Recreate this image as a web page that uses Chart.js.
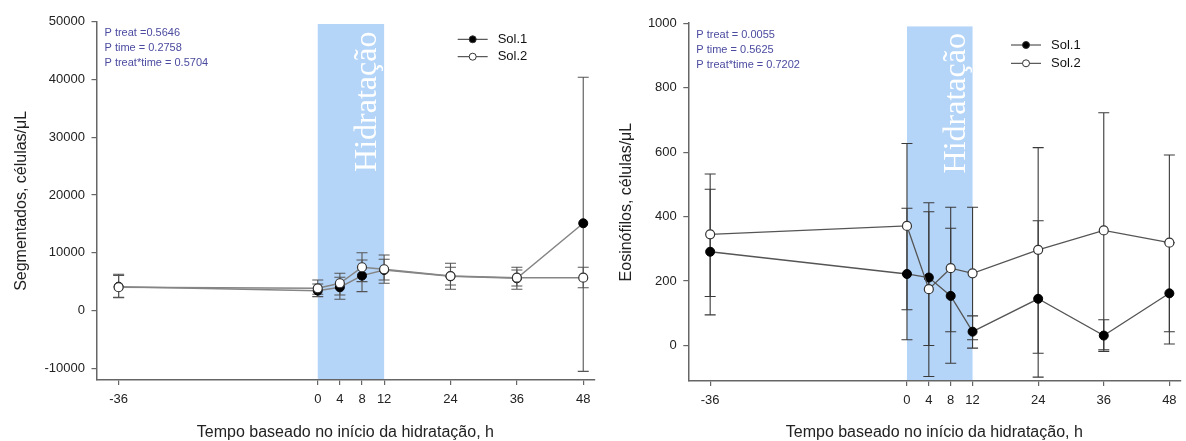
<!DOCTYPE html>
<html><head><meta charset="utf-8">
<script src="https://cdn.jsdelivr.net/npm/chart.js@4.4.1/dist/chart.umd.min.js"></script>
<style>
html,body{margin:0;padding:0;background:#fff;}
#wrap{position:relative;width:1186px;height:441px;overflow:hidden;background:#fff;}
.box{position:absolute;top:0;height:441px;}
</style></head><body>
<div id="wrap">
<div class="box" style="left:0;width:600px"><canvas id="c1" width="600" height="441"></canvas></div>
<div class="box" style="left:593px;width:593px"><canvas id="c2" width="593" height="441"></canvas></div>
</div>
<script>
// ---- data ----
const hours = [-36, 0, 4, 8, 12, 24, 36, 48];
const xTicks = [-36, 0, 4, 8, 12, 24, 36, 48];
const seriesNames = ['Sol.1', 'Sol.2'];

// Segmentados (células/μL): means and error-bar ends
const segSol1   = [4150, 3460, 4050, 6060, 7040, 5950, 5600, 15120];
const segSol1Lo = [2250, 2420, 1970, 3290, 4740, 3700, 3700, -10500];
const segSol1Hi = [6300, 4600, 5780, 8770, 9640, 8200, 7510, 40400];
const segSol2   = [4050, 3870, 4740, 7510, 7160, 5980, 5700, 5710];
const segSol2Lo = [2300, 2840, 2720, 5020, 5310, 4450, 4270, 3950];
const segSol2Hi = [6100, 5300, 6470, 10030, 8890, 7510, 7040, 7500];
const segYTicks = [-10000, 0, 10000, 20000, 30000, 40000, 50000];
const segStats = ['P treat =0.5646', 'P time = 0.2758', 'P treat*time = 0.5704'];

// Eosinófilos (células/μL)
const eosSol1   = [291, 222, 211, 154, 43, 145, 31, 162];
const eosSol1Lo = [95, 18, 0, -55, -8, -98, -18, 5];
const eosSol1Hi = [485, 426, 415, 364, 92, 387, 80, 319];
const eosSol2   = [345, 371, 175, 240, 224, 297, 357, 319];
const eosSol2Lo = [152, 111, -96, 43, 18, -24, -13, 43];
const eosSol2Hi = [532, 627, 443, 429, 429, 614, 722, 591];
const eosYTicks = [0, 200, 400, 600, 800, 1000];
const eosStats = ['P treat = 0.0055', 'P time = 0.5625', 'P treat*time = 0.7202'];

const hydration = [0, 12];
const bandLabel = 'Hidratação';
const xTitle = 'Tempo baseado no início da hidratação, h';

// ---- rendering ----
const SANS = '"Liberation Sans", Arial, Helvetica, sans-serif';
Chart.defaults.font.family = SANS;
Chart.defaults.color = '#222';

function pts(arr) { return hours.map((h, i) => ({x: h, y: arr[i]})); }

const decor = {
  id: 'decor',
  beforeDraw(chart, args, o) {
    const {ctx, chartArea: a, scales: {x, y}} = chart;
    const x0 = x.getPixelForValue(hydration[0]);
    const x1 = x.getPixelForValue(hydration[1]);
    const yt = y.getPixelForValue(o.bandTop);
    ctx.save();
    ctx.fillStyle = '#b4d5f8';
    ctx.fillRect(x0, yt, x1 - x0, a.bottom - yt);
    ctx.translate(x1 - 8, a.top + 80);
    ctx.rotate(-Math.PI / 2);
    ctx.font = '32px "Liberation Serif", "Times New Roman", serif';
    ctx.fillStyle = '#ffffff';
    ctx.textAlign = 'center';
    ctx.textBaseline = 'alphabetic';
    ctx.fillText(bandLabel, 0, 0);
    ctx.restore();
  },
  beforeDatasetsDraw(chart, args, o) {
    const {ctx, scales: {x, y}} = chart;
    ctx.save();
    ctx.strokeStyle = o.errColor;
    ctx.lineWidth = o.errWidth;
    const cap = 5.5;
    o.bars.forEach(([lo, hi]) => {
      hours.forEach((h, i) => {
        const px = x.getPixelForValue(h);
        const pl = y.getPixelForValue(lo[i]);
        const ph = y.getPixelForValue(hi[i]);
        ctx.beginPath();
        ctx.moveTo(px, pl); ctx.lineTo(px, ph);
        ctx.moveTo(px - cap, pl); ctx.lineTo(px + cap, pl);
        ctx.moveTo(px - cap, ph); ctx.lineTo(px + cap, ph);
        ctx.stroke();
      });
    });
    ctx.restore();
  },
  afterDraw(chart, args, o) {
    const {ctx, chartArea: a} = chart;
    ctx.save();
    ctx.font = '11px ' + SANS;
    ctx.fillStyle = '#4b4ba0';
    ctx.textAlign = 'left';
    ctx.textBaseline = 'middle';
    o.stats.forEach((t, i) => ctx.fillText(t, a.left + 8, a.top + 11.5 + i * 15));
    ctx.font = '13px ' + SANS;
    seriesNames.forEach((name, i) => {
      const ly = o.legendY + i * o.legendGap;
      ctx.strokeStyle = '#333';
      ctx.lineWidth = 1;
      ctx.beginPath(); ctx.moveTo(o.legendX, ly); ctx.lineTo(o.legendX + 30, ly); ctx.stroke();
      ctx.beginPath(); ctx.arc(o.legendX + 15, ly, 3.5, 0, Math.PI * 2);
      ctx.fillStyle = i === 0 ? '#000' : '#fff';
      ctx.fill(); ctx.stroke();
      ctx.fillStyle = '#111';
      ctx.fillText(name, o.legendX + 40, ly);
    });
    ctx.restore();
  }
};

function makeChart(id, c) {
  return new Chart(document.getElementById(id), {
    type: 'line',
    data: {
      datasets: [
        {label: seriesNames[1], data: pts(c.s2), order: 0, borderColor: c.lineColor, borderWidth: c.lineWidth,
         pointRadius: 4.5, pointBackgroundColor: '#fff', pointBorderColor: '#333', pointBorderWidth: 1.2, tension: 0},
        {label: seriesNames[0], data: pts(c.s1), order: 1, borderColor: c.lineColor, borderWidth: c.lineWidth,
         pointRadius: 4.5, pointBackgroundColor: '#000', pointBorderColor: '#000', pointBorderWidth: 1, tension: 0}
      ]
    },
    options: {
      responsive: false,
      animation: false,
      devicePixelRatio: 1,
      layout: {padding: {left: 0, top: c.padTop, right: c.padRight, bottom: 0}},
      plugins: {
        legend: {display: false},
        tooltip: {enabled: false},
        decor: {bandTop: c.bandTop, errColor: c.errColor, errWidth: 1.1,
                bars: [[c.s1Lo, c.s1Hi], [c.s2Lo, c.s2Hi]],
                stats: c.stats, legendX: c.legendX, legendY: c.legendY, legendGap: c.legendGap}
      },
      scales: {
        x: {
          type: 'linear', min: -40, max: 50,
          afterBuildTicks: s => { s.ticks = xTicks.map(v => ({value: v})); },
          afterFit: s => { s.height = c.xHeight; },
          ticks: {font: {size: 13}, color: '#222', padding: 6.5, maxRotation: 0, autoSkip: false},
          grid: {drawOnChartArea: false, drawTicks: true, tickLength: 5, color: '#666', lineWidth: 1.2},
          border: {display: true, color: '#666', width: 1.5},
          title: {display: true, text: xTitle, font: {size: 16}, color: '#222', padding: {top: 0, bottom: -1.5}}
        },
        y: {
          type: 'linear', min: c.yMin, max: c.yMax,
          afterBuildTicks: s => { s.ticks = c.yTicks.map(v => ({value: v})); },
          afterFit: s => { s.width = c.yWidth; },
          ticks: {font: {size: 13}, color: '#222', padding: 6.5, callback: v => String(v)},
          grid: {drawOnChartArea: false, drawTicks: true, tickLength: 5, color: '#666', lineWidth: 1.2},
          border: {display: true, color: '#666', width: 1.5},
          title: {display: true, text: c.yTitle, font: {size: 16}, color: '#222', padding: {top: c.yTitlePad, bottom: 0}}
        }
      }
    },
    plugins: [decor]
  });
}

makeChart('c1', {
  s1: segSol1, s1Lo: segSol1Lo, s1Hi: segSol1Hi,
  s2: segSol2, s2Lo: segSol2Lo, s2Hi: segSol2Hi,
  yMin: -12000, yMax: 50000, yTicks: segYTicks, bandTop: 49600,
  yTitle: 'Segmentados, células/μL', stats: segStats,
  padTop: 21.7, padRight: 5, xHeight: 61, yWidth: 96.5, yTitlePad: 12.1,
  lineColor: '#858585', lineWidth: 1.5, errColor: '#555',
  legendX: 457.7, legendY: 39.3, legendGap: 17.4
});

makeChart('c2', {
  s1: eosSol1, s1Lo: eosSol1Lo, s1Hi: eosSol1Hi,
  s2: eosSol2, s2Lo: eosSol2Lo, s2Hi: eosSol2Hi,
  yMin: -110, yMax: 1000, yTicks: eosYTicks, bandTop: 990,
  yTitle: 'Eosinófilos, células/μL', stats: eosStats,
  padTop: 23.2, padRight: 2, xHeight: 60, yWidth: 95.3, yTitlePad: 24.1,
  lineColor: '#555', lineWidth: 1.3, errColor: '#3a3a3a',
  legendX: 418, legendY: 45, legendGap: 18.3
});
</script>
</body></html>
